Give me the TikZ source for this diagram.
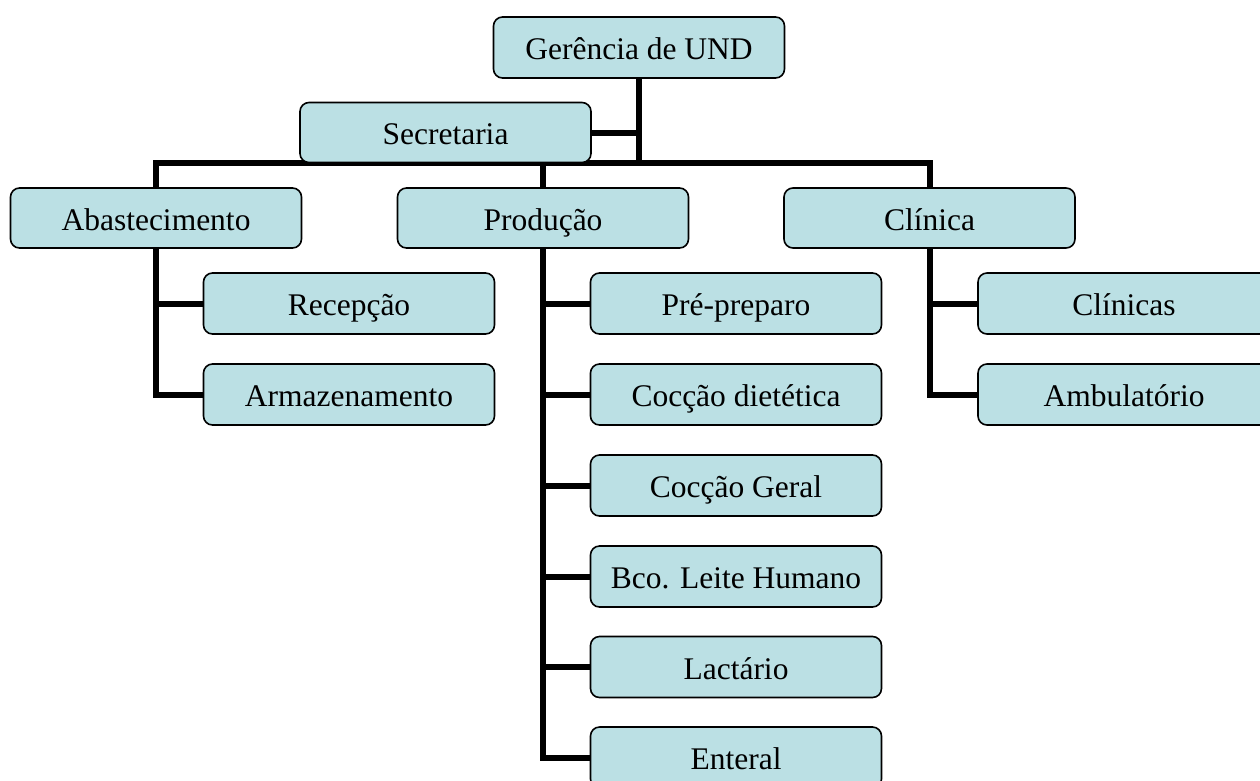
\documentclass[tikz,border=0pt]{standalone}
\usepackage{fontspec}
\setmainfont{Liberation Serif}
\usetikzlibrary{backgrounds}
\definecolor{boxfill}{RGB}{187,224,228}
\begin{document}
\begin{tikzpicture}[x=1pt,y=-1pt,
  orgbox/.style={draw=black, line width=1.6pt, fill=boxfill, rounded corners=9pt,
    minimum width=291pt, minimum height=60pt, inner sep=0pt,
    text height=24pt, text depth=0pt,
    font=\fontsize{31.5}{36}\selectfont},
  conn/.style={line width=6pt, line join=miter, draw=black}]
\useasboundingbox (0,0) rectangle (1260,780);
\clip (0,0) rectangle (1260,780);
\coordinate (bar) at (639,163);
\node[orgbox, minimum height=61pt] (ger) at (639,47.5) {Gerência de UND};
\node[orgbox] (sec) at (445.5,132.5) {Secretaria};
\node[orgbox] (aba) at (156,218) {Abastecimento};
\node[orgbox] (pro) at (543,218) {Produção};
\node[orgbox] (cli) at (929.5,218) {Clínica};
\node[orgbox, minimum height=61pt] (rec) at (349,303.5) {Recepção};
\node[orgbox, minimum height=61pt] (arm) at (349,394.5) {Armazenamento};
\node[orgbox, minimum height=61pt] (pre) at (736,303.5) {Pré-preparo};
\node[orgbox, minimum height=61pt] (cd) at (736,394.5) {Cocção dietética};
\node[orgbox, minimum height=61pt] (cg) at (736,485.5) {Cocção Geral};
\node[orgbox, minimum height=61pt] (bco) at (736,576.5) {Bco. Leite Humano};
\node[orgbox, minimum height=61pt] (lac) at (736,667) {Lactário};
\node[orgbox, minimum height=61pt] (ent) at (736,757.5) {Enteral};
\node[orgbox, minimum height=61pt, minimum width=292pt] (clis) at (1124,303.5) {Clínicas};
\node[orgbox, minimum height=61pt, minimum width=292pt] (amb) at (1124,394.5) {Ambulatório};
\begin{scope}[on background layer]
\fill[white] (0,0) rectangle (1260,780);
\draw[conn] (ger.south) -- (bar);
\draw[conn] (sec.east) -- (sec.east -| ger.south);
\draw[conn] (aba.north) |- (bar);
\draw[conn] (cli.north) |- (bar);
\draw[conn] (pro.north) -- (pro.north |- bar);
\draw[conn] (aba.south) |- (arm.west);
\draw[conn] (aba.south) |- (rec.west);
\draw[conn] (pro.south) |- (ent.west);
\draw[conn] (pro.south) |- (pre.west);
\draw[conn] (pro.south) |- (cd.west);
\draw[conn] (pro.south) |- (cg.west);
\draw[conn] (pro.south) |- (bco.west);
\draw[conn] (pro.south) |- (lac.west);
\draw[conn] (cli.south) |- (amb.west);
\draw[conn] (cli.south) |- (clis.west);
\end{scope}
\end{tikzpicture}
\end{document}
